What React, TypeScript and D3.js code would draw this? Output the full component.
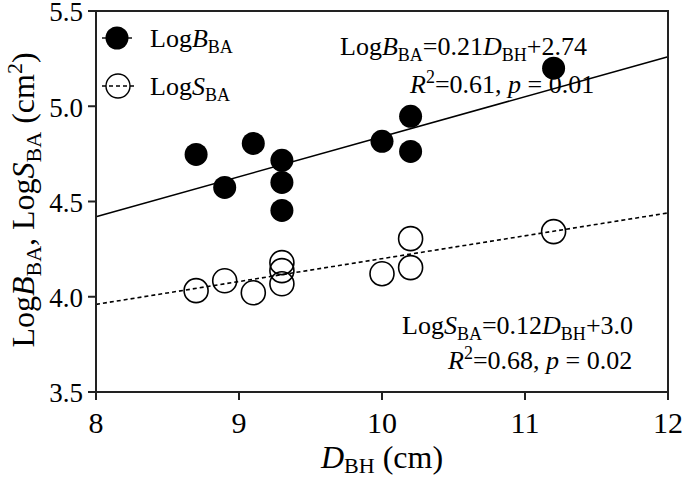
import React from "react";
import * as d3 from "d3";

const dbh = [8.7, 8.9, 9.1, 9.3, 9.3, 9.3, 10.0, 10.2, 10.2, 11.2];
const logB = [4.747, 4.574, 4.805, 4.716, 4.6, 4.453, 4.816, 4.947, 4.763, 5.2];
const dbhS = [8.7, 8.9, 9.1, 9.3, 9.3, 9.3, 10.0, 10.2, 10.2, 11.2];
const logS = [4.032, 4.084, 4.021, 4.179, 4.137, 4.068, 4.121, 4.305, 4.153, 4.342];
const fitB = [0.21, 2.74];
const fitS = [0.12, 3.0];
const xTicks = [8, 9, 10, 11, 12];
const yTicks = [3.5, 4.0, 4.5, 5.0, 5.5];

const FONT = "'Liberation Serif', 'Times New Roman', serif";

export default function App() {
  const x = d3.scaleLinear().domain([8, 12]).range([96, 668]);
  const y = d3.scaleLinear().domain([3.5, 5.5]).range([392, 11]);
  const lineB = d3
    .line<number>()
    .x((d) => x(d))
    .y((d) => y(fitB[0] * d + fitB[1]))([8, 12]) as string;
  const lineS = d3
    .line<number>()
    .x((d) => x(d))
    .y((d) => y(fitS[0] * d + fitS[1]))([8, 12]) as string;
  const fs = 26;
  const sub = 18;
  const tfs = 32;
  const tsub = 22;
  const axisColor = "#222";
  return (
    <svg
      width={685}
      height={478}
      style={{ position: "absolute", left: 0, top: 0, background: "#fff" }}
      fontFamily={FONT}
    >
      <rect x={0} y={0} width={685} height={478} fill="#fff" />
      {/* regression lines */}
      <path d={lineB} stroke="#000" strokeWidth={1.6} fill="none" />
      <path d={lineS} stroke="#000" strokeWidth={1.6} fill="none" strokeDasharray="4,3" />
      {/* open points */}
      {dbhS.map((d, i) => (
        <circle key={"s" + i} cx={x(d)} cy={y(logS[i])} r={12} fill="none" stroke="#000" strokeWidth={1.6} />
      ))}
      {/* filled points */}
      {dbh.map((d, i) => (
        <circle key={"b" + i} cx={x(d)} cy={y(logB[i])} r={11.5} fill="#000" />
      ))}
      {/* frame */}
      <rect x={x(8)} y={y(5.5)} width={x(12) - x(8)} height={y(3.5) - y(5.5)} fill="none" stroke={axisColor} strokeWidth={2} />
      {/* y ticks */}
      {yTicks.map((t) => (
        <g key={"yt" + t}>
          <line x1={x(8) - 8} x2={x(8)} y1={y(t)} y2={y(t)} stroke={axisColor} strokeWidth={2} />
          <text x={83} y={y(t) + 1} dy="0.35em" textAnchor="end" fontSize={27}>
            {t.toFixed(1)}
          </text>
        </g>
      ))}
      {/* x ticks */}
      {xTicks.map((t) => (
        <g key={"xt" + t}>
          <line x1={x(t)} x2={x(t)} y1={y(3.5)} y2={y(3.5) + 8} stroke={axisColor} strokeWidth={2} />
          <text x={x(t)} y={433} textAnchor="middle" fontSize={30}>
            {t}
          </text>
        </g>
      ))}
      {/* x title */}
      <text x={382} y={468} textAnchor="middle" fontSize={tfs}>
        <tspan fontStyle="italic">D</tspan>
        <tspan fontSize={tsub} dy={5}>BH</tspan>
        <tspan dy={-5}> (cm)</tspan>
      </text>
      {/* y title */}
      <text transform={`translate(34,${200}) rotate(-90)`} textAnchor="middle" fontSize={tfs}>
        <tspan>Log</tspan>
        <tspan fontStyle="italic">B</tspan>
        <tspan fontSize={tsub} dy={7}>BA</tspan>
        <tspan dy={-7}>, Log</tspan>
        <tspan fontStyle="italic">S</tspan>
        <tspan fontSize={tsub} dy={7}>BA</tspan>
        <tspan dy={-7}> (cm</tspan>
        <tspan fontSize={tsub} dy={-12}>2</tspan>
        <tspan dy={12}>)</tspan>
      </text>
      {/* legend */}
      <line x1={102} x2={132} y1={38} y2={38} stroke="#000" strokeWidth={1.4} />
      <circle cx={117} cy={38} r={11.5} fill="#000" />
      <text x={150} y={47} fontSize={fs}>
        <tspan>Log</tspan>
        <tspan fontStyle="italic">B</tspan>
        <tspan fontSize={sub} dy={6}>BA</tspan>
      </text>
      <circle cx={118} cy={86} r={12} fill="#fff" stroke="#000" strokeWidth={1.4} />
      <line x1={102} x2={134} y1={86} y2={86} stroke="#000" strokeWidth={1.4} strokeDasharray="4,3" />
      <text x={150} y={95} fontSize={fs}>
        <tspan>Log</tspan>
        <tspan fontStyle="italic">S</tspan>
        <tspan fontSize={sub} dy={6}>BA</tspan>
      </text>
      {/* equations */}
      <text x={340} y={55} fontSize={fs}>
        <tspan>Log</tspan>
        <tspan fontStyle="italic">B</tspan>
        <tspan fontSize={sub} dy={6}>BA</tspan>
        <tspan dy={-6}>=0.21</tspan>
        <tspan fontStyle="italic">D</tspan>
        <tspan fontSize={sub} dy={6}>BH</tspan>
        <tspan dy={-6}>+2.74</tspan>
      </text>
      <text x={410} y={93} fontSize={fs}>
        <tspan fontStyle="italic">R</tspan>
        <tspan fontSize={sub} dy={-10}>2</tspan>
        <tspan dy={10}>=0.61, </tspan>
        <tspan fontStyle="italic">p</tspan>
        <tspan> = 0.01</tspan>
      </text>
      <text x={402} y={334} fontSize={fs}>
        <tspan>Log</tspan>
        <tspan fontStyle="italic">S</tspan>
        <tspan fontSize={sub} dy={6}>BA</tspan>
        <tspan dy={-6}>=0.12</tspan>
        <tspan fontStyle="italic">D</tspan>
        <tspan fontSize={sub} dy={6}>BH</tspan>
        <tspan dy={-6}>+3.0</tspan>
      </text>
      <text x={448} y={369} fontSize={fs}>
        <tspan fontStyle="italic">R</tspan>
        <tspan fontSize={sub} dy={-10}>2</tspan>
        <tspan dy={10}>=0.68, </tspan>
        <tspan fontStyle="italic">p</tspan>
        <tspan> = 0.02</tspan>
      </text>
    </svg>
  );
}
